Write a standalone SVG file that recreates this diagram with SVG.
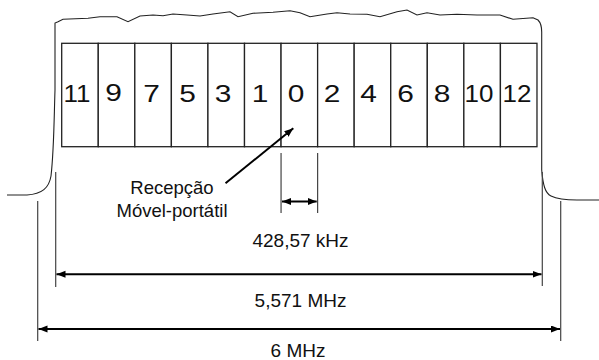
<svg xmlns="http://www.w3.org/2000/svg" width="599" height="360" viewBox="0 0 599 360">
<style>
.cell{fill:#fff;stroke:#222;stroke-width:1.3}
.dig{font-family:"Liberation Sans",Arial,sans-serif;font-size:24.5px;fill:#111;text-anchor:middle}
.lbl{font-family:"Liberation Sans",Arial,sans-serif;font-size:18.5px;fill:#111;text-anchor:middle}
.dim{font-family:"Liberation Sans",Arial,sans-serif;font-size:19px;fill:#111;text-anchor:middle}
.ext{stroke:#444;stroke-width:1.2;fill:none}
.arr{stroke:#000;stroke-width:2;fill:none}
.outline{stroke:#222;stroke-width:1.1;fill:none}
</style>
<defs>
<marker id="ah" markerUnits="userSpaceOnUse" markerWidth="10" markerHeight="8" refX="9" refY="3.5" orient="auto-start-reverse">
<path d="M0,0 L9,3.5 L0,7 z" fill="#000"/>
</marker>
</defs>
<rect width="599" height="360" fill="#fff"/>
<g id="spectrum">
<path class="outline" d="M7,195 L27,195 C42,194 49,188 51,176 C54,150 54,120 55,90 L55,23 L58,21.7 L63,19.3 L88,18.3 L100,16.7 L117,16.7 L128,21.7 L140,16 L153,15 L163,15.7 L173,14 L187,15 L200,16 L213,14 L230,11.7 L238,16.7 L253,13.3 L273,12.3 L290,10.7 L300,12.7 L310,16.7 L327,14 L337,12.7 L350,14 L367,14.3 L380,16.7 L397,11.7 L407,10 L417,15 L427,12.7 L440,15 L457,14.3 L477,15 L500,15 L513,19.3 L533,17.7 L538,20 C541,23 541.7,27 541.7,32 L541.7,170 C543,185 545,193 551,196 C557,199 566,200 577,200 L599,200"/>
</g>
<g id="channels">
<g id="ch11"><rect class="cell" x="61.7" y="43.3" width="36.56" height="103.4"/><text class="dig" transform="translate(77,102.3) scale(1.06,1)">11</text></g>
<g id="ch9"><rect class="cell" x="98.26" y="43.3" width="36.56" height="103.4"/><text class="dig" transform="translate(113.5,101) scale(1.22,1)">9</text></g>
<g id="ch7"><rect class="cell" x="134.82" y="43.3" width="36.56" height="103.4"/><text class="dig" transform="translate(151.5,102.3) scale(1.22,1)">7</text></g>
<g id="ch5"><rect class="cell" x="171.38" y="43.3" width="36.56" height="103.4"/><text class="dig" transform="translate(187.5,102.3) scale(1.22,1)">5</text></g>
<g id="ch3"><rect class="cell" x="207.94" y="43.3" width="36.56" height="103.4"/><text class="dig" transform="translate(223,102.3) scale(1.22,1)">3</text></g>
<g id="ch1"><rect class="cell" x="244.5" y="43.3" width="36.56" height="103.4"/><text class="dig" transform="translate(260,102.3) scale(1.22,1)">1</text></g>
<g id="ch0"><rect class="cell" x="281.06" y="43.3" width="36.56" height="103.4"/><text class="dig" transform="translate(296,102.3) scale(1.22,1)">0</text></g>
<g id="ch2"><rect class="cell" x="317.62" y="43.3" width="36.56" height="103.4"/><text class="dig" transform="translate(332,102.3) scale(1.22,1)">2</text></g>
<g id="ch4"><rect class="cell" x="354.18" y="43.3" width="36.56" height="103.4"/><text class="dig" transform="translate(368.5,102.3) scale(1.22,1)">4</text></g>
<g id="ch6"><rect class="cell" x="390.74" y="43.3" width="36.56" height="103.4"/><text class="dig" transform="translate(405.5,102.3) scale(1.22,1)">6</text></g>
<g id="ch8"><rect class="cell" x="427.3" y="43.3" width="36.56" height="103.4"/><text class="dig" transform="translate(442,102.3) scale(1.22,1)">8</text></g>
<g id="ch10"><rect class="cell" x="463.86" y="43.3" width="36.56" height="103.4"/><text class="dig" transform="translate(479,102.3) scale(1.06,1)">10</text></g>
<g id="ch12"><rect class="cell" x="500.42" y="43.3" width="36.56" height="103.4"/><text class="dig" transform="translate(517,102.3) scale(1.06,1)">12</text></g>
</g>
<g id="label-recepcao">
<text class="lbl" x="172" y="194">Recepção</text>
<text class="lbl" x="172" y="216.5">Móvel-portátil</text>
</g>
<g id="dimension-labels">
<text class="dim" x="300.5" y="246.5">428,57 kHz</text>
<text class="dim" x="300.5" y="306.5">5,571 MHz</text>
<text class="dim" x="298" y="357">6 MHz</text>
</g>
<g id="connectors">
<line class="ext" x1="281.06" y1="153" x2="281.06" y2="213"/>
<line class="ext" x1="317.62" y1="153" x2="317.62" y2="213"/>
<line class="ext" x1="55.7" y1="172" x2="55.7" y2="287"/>
<line class="ext" x1="542.3" y1="172" x2="542.3" y2="286"/>
<line class="ext" x1="37.7" y1="201" x2="37.7" y2="341"/>
<line class="ext" x1="560.7" y1="201" x2="560.7" y2="341"/>
<line class="arr" x1="282" y1="201.5" x2="316.7" y2="201.5" marker-start="url(#ah)" marker-end="url(#ah)"/>
<line class="arr" x1="56.5" y1="274.3" x2="541.5" y2="274.3" marker-start="url(#ah)" marker-end="url(#ah)"/>
<line class="arr" x1="38.5" y1="329" x2="560" y2="329" marker-start="url(#ah)" marker-end="url(#ah)"/>
<line class="arr" x1="225.5" y1="183.3" x2="293.3" y2="128.3" marker-end="url(#ah)"/>
</g>
</svg>
